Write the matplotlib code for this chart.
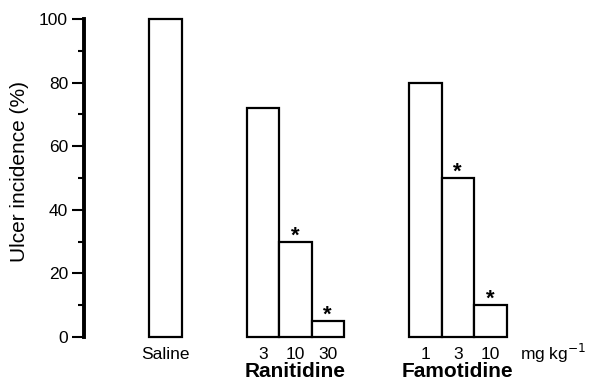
import matplotlib
matplotlib.use("Agg")
import matplotlib.pyplot as plt
import matplotlib.transforms as mtransforms

plt.rcParams['font.family'] = ['Liberation Sans', 'DejaVu Sans']

# Data
groups = ['Saline', 'Ranitidine', 'Famotidine']
doses = ['', '3', '10', '30', '1', '3', '10']
group_of_bar = ['Saline', 'Ranitidine', 'Ranitidine', 'Ranitidine',
                'Famotidine', 'Famotidine', 'Famotidine']
incidence = [100, 72, 30, 5, 80, 50, 10]
significant = [False, False, True, True, False, True, True]

# bar positions (unit = one bar width), groups separated by gaps
positions = [2.5, 5.5, 6.5, 7.5, 10.5, 11.5, 12.5]

fig = plt.figure(figsize=(5.9, 3.83), dpi=100)
ax = fig.add_axes([84 / 590, 46 / 383, 506 / 590, 318 / 383])

bars = ax.bar(positions, incidence, width=1.0, facecolor='white',
              edgecolor='black', linewidth=1.6)
for b in bars:
    b.set_clip_on(False)

# asterisks for significant bars
for x, h, s in zip(positions, incidence, significant):
    if s:
        ax.annotate('*', xy=(x, h), xytext=(0, 0), textcoords='offset points',
                    ha='center', va='baseline', fontsize=16, fontweight='bold')

ax.set_xlim(0, 506 / 32.5)
ax.set_ylim(0, 100)

# axes styling
for side in ['top', 'right', 'bottom']:
    ax.spines[side].set_visible(False)
ax.spines['left'].set_linewidth(2.8)

ax.set_yticks([0, 20, 40, 60, 80, 100])
ax.set_yticks([10, 30, 50, 70, 90], minor=True)
ax.tick_params(axis='y', which='major', length=8.5, width=1.5, pad=3, labelsize=12.5)
ax.tick_params(axis='y', which='minor', length=4.5, width=1.5)

# dose labels under bars
tick_labels = ['Saline'] + doses[1:]
ax.set_xticks(positions, tick_labels)
ax.tick_params(axis='x', length=0, pad=7.5, labelsize=12.5)

# group names under ranitidine / famotidine
trans = mtransforms.blended_transform_factory(ax.transData, ax.transAxes)
ax.text(6.5, -0.126, 'Ranitidine', transform=trans, ha='center', va='baseline',
        fontsize=15, fontweight='bold')
ax.text(11.5, -0.126, 'Famotidine', transform=trans, ha='center', va='baseline',
        fontsize=15, fontweight='bold')

# unit label
ax.text(13.42, -0.072, 'mg kg$^{-1}$', transform=trans, ha='left',
        va='baseline', fontsize=12.5)

ax.set_ylabel('Ulcer incidence (%)', fontsize=15)
ax.yaxis.set_label_coords(-0.108, 0.52)

plt.savefig('out.png', dpi=100)
